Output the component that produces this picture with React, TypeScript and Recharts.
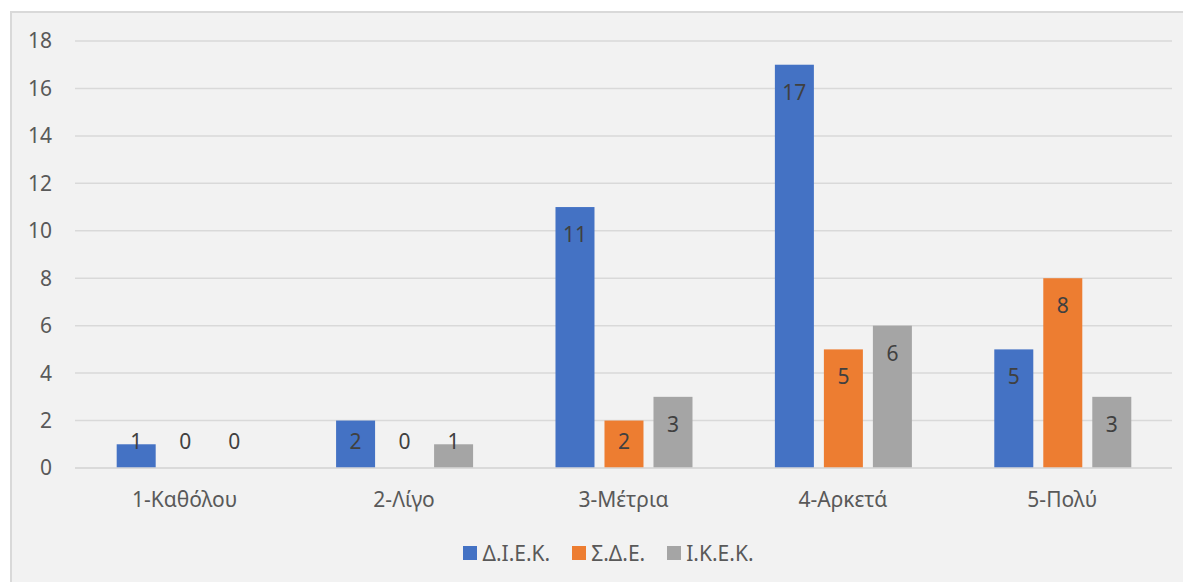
import React from "react";
import { BarChart, Bar, XAxis, YAxis, CartesianGrid, Legend } from "recharts";

const categories = ["1-Καθόλου", "2-Λίγο", "3-Μέτρια", "4-Αρκετά", "5-Πολύ"];
const diek = [1, 2, 11, 17, 5];
const sde = [0, 0, 2, 5, 8];
const ikek = [0, 1, 3, 6, 3];
const yTicks = [0, 2, 4, 6, 8, 10, 12, 14, 16, 18];

const seriesNames = ["Δ.Ι.Ε.Κ.", "Σ.Δ.Ε.", "Ι.Κ.Ε.Κ."];
const colors = ["#4472c4", "#ed7d31", "#a5a5a5"];

const data = categories.map((c, i) => ({ name: c, a: diek[i], b: sde[i], c: ikek[i] }));

const FONT = "'Noto Sans', sans-serif";
const FS = 21;

const makeShape = (key: string, color: string) => (props: any) => {
  const { x, y, width, height, payload } = props;
  const value = payload ? payload[key] : props.value;
  const h = Math.max(0, height || 0);
  const bottom = y + h;
  const cy = Math.min(y + 27, bottom - 27);
  return (
    <g>
      {h > 0 && <rect x={x} y={y} width={width} height={h} fill={color} />}
      <text
        x={x + width / 2}
        y={cy}
        textAnchor="middle"
        dominantBaseline="central"
        fill="#404040"
        fontSize={FS}
        fontFamily={FONT}
      >
        {value}
      </text>
    </g>
  );
};

const renderLegend = () => (
  <div
    style={{
      display: "flex",
      justifyContent: "center",
      alignItems: "center",
      height: 26,
      fontSize: FS,
      fontFamily: FONT,
      color: "#595959",
      paddingLeft: 20,
    }}
  >
    {seriesNames.map((n, i) => (
      <div key={n} style={{ display: "flex", alignItems: "center", marginRight: i < 2 ? 22 : 0 }}>
        <span style={{ display: "inline-block", width: 14, height: 14, background: colors[i], marginRight: 5 }} />
        <span>{n}</span>
      </div>
    ))}
  </div>
);

export default function App() {
  return (
    <div
      style={{
        marginLeft: 2,
        marginTop: 3,
        width: 1179,
        height: 569,
        background: "#f2f2f2",
        borderTop: "2px solid #d9d9d9",
        borderLeft: "2px solid #d9d9d9",
        fontFamily: FONT,
      }}
    >
      <BarChart
        width={1179}
        height={569}
        data={data}
        margin={{ top: 28, right: 19, left: 13, bottom: 16 }}
        barCategoryGap="19%"
        barGap={10}
      >
        <CartesianGrid vertical={false} stroke="#d9d9d9" strokeWidth={1.5} />
        <XAxis
          dataKey="name"
          axisLine={{ stroke: "#d9d9d9", strokeWidth: 1.5 }}
          tickLine={false}
          tickSize={6}
          tickMargin={18}
          height={72}
          tick={{ fill: "#595959", fontSize: FS, fontFamily: FONT }}
        />
        <YAxis
          domain={[0, 18]}
          ticks={yTicks}
          axisLine={false}
          tickLine={false}
          tickSize={6}
          tickMargin={17}
          width={50}
          tick={{ fill: "#595959", fontSize: FS, fontFamily: FONT }}
        />
        <Legend verticalAlign="bottom" align="center" content={renderLegend} />
        <Bar dataKey="a" name={seriesNames[0]} fill={colors[0]} isAnimationActive={false} shape={makeShape("a", colors[0])} />
        <Bar dataKey="b" name={seriesNames[1]} fill={colors[1]} isAnimationActive={false} shape={makeShape("b", colors[1])} />
        <Bar dataKey="c" name={seriesNames[2]} fill={colors[2]} isAnimationActive={false} shape={makeShape("c", colors[2])} />
      </BarChart>
    </div>
  );
}
